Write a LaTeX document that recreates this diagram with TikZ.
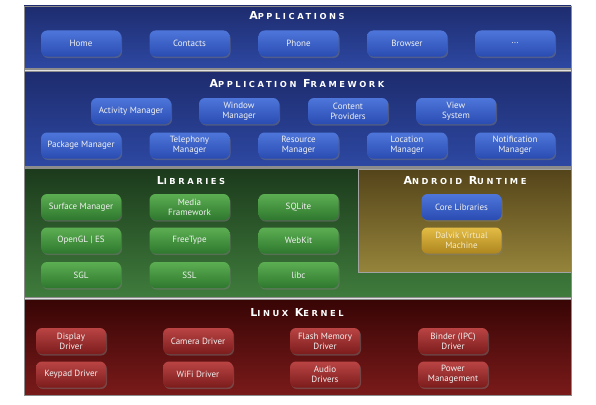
\documentclass[tikz,border=0pt]{standalone}
\usepackage{fontspec}
\setmainfont{PT Sans}
\newfontfamily\ttlfont[LetterSpace=31]{DejaVu Sans}
\usetikzlibrary{shadows}
\definecolor{appT}{HTML}{1E2C6E}
\definecolor{appB}{HTML}{2D48A2}
\definecolor{libT}{HTML}{1C3A1C}
\definecolor{libB}{HTML}{3F7C3C}
\definecolor{rtT}{HTML}{54441A}
\definecolor{rtB}{HTML}{95843A}
\definecolor{krnT}{HTML}{380505}
\definecolor{krnB}{HTML}{7A1A1A}
\definecolor{sepgray}{HTML}{8C8C8C}
\definecolor{bluT}{HTML}{4E76DA}
\definecolor{bluB}{HTML}{2A4CB2}
\definecolor{grnT}{HTML}{5CAE52}
\definecolor{grnB}{HTML}{2E782E}
\definecolor{redT}{HTML}{BA4444}
\definecolor{redB}{HTML}{7C1C1C}
\definecolor{ylwT}{HTML}{E2BC44}
\definecolor{ylwB}{HTML}{AE8620}
\definecolor{txt}{HTML}{F2F2F2}
\newcommand\sct[2]{{\fontsize{11}{11}\selectfont #1}{\fontsize{8.3}{8.3}\selectfont #2}}
\tikzset{
  layerbox/.style={rounded corners=6pt, minimum width=80pt, minimum height=26pt, inner sep=0pt,
    align=center, text=txt, font=\fontsize{9}{10}\selectfont,
    drop shadow={opacity=0.45, shadow xshift=1pt, shadow yshift=-1.5pt}},
  bluebox/.style={layerbox, top color=bluT, bottom color=bluB},
  greenbox/.style={layerbox, top color=grnT, bottom color=grnB},
  redbox/.style={layerbox, top color=redT, bottom color=redB, minimum width=70pt},
  yellowbox/.style={layerbox, top color=ylwT, bottom color=ylwB, text=ylwT!30!white},
  title/.style={text=white, font=\ttlfont\bfseries, inner sep=0pt},
  sepline/.style={fill=sepgray},
}
\begin{document}
\begin{tikzpicture}[x=1pt,y=-1pt]
\useasboundingbox (0,0) rectangle (596,404);
\fill[white] (0,0) rectangle (596,404);
% bands
\shade[top color=appT, bottom color=appB] (24,6) rectangle (571,68);
\shade[top color=appT, bottom color=appB] (24,72) rectangle (571,166);
\shade[top color=libT, bottom color=libB] (24,169) rectangle (571,297);
\shade[top color=krnT, bottom color=krnB] (24,300) rectangle (571,395);
\shade[top color=rtT, bottom color=rtB, draw=sepgray!80!white, line width=1pt] (358.5,169) rectangle (571,272);
% separators
\fill[sepline] (24,68) rectangle (571,72);
\draw[white!75!sepgray, line width=0.8pt] (24,70) -- (571,70);
\fill[sepline] (24,166) rectangle (571,169);
\fill[sepline] (24,297) rectangle (571,300);
\draw[white!75!sepgray, line width=0.6pt] (24,298.5) -- (571,298.5);
\draw[sepgray, line width=0.8pt] (24,6) rectangle (571,395);

% Applications
\node[title] (tapp) at (297,16) {\sct{A}{PPLICATIONS}};
\node[bluebox] (home) at (81,43.5) {Home};
\node[bluebox] (contacts) at (189.5,43.5) {Contacts};
\node[bluebox] (phone) at (298.5,43.5) {Phone};
\node[bluebox] (browser) at (407,43.5) {Browser};
\node[bluebox] (more) at (515,43.5) {...};

% Application framework
\node[title] (tfw) at (297,84) {\sct{A}{PPLICATION} \sct{F}{RAMEWORK}};
\node[bluebox] (activity) at (131,111) {Activity Manager};
\node[bluebox] (window) at (239,111) {Window\\Manager};
\node[bluebox] (content) at (348,111) {Content\\Providers};
\node[bluebox] (view) at (456,111) {View\\System};
\node[bluebox] (package) at (81,145.5) {Package Manager};
\node[bluebox] (telephony) at (189.5,145.5) {Telephony\\Manager};
\node[bluebox] (resource) at (298.5,145.5) {Resource\\Manager};
\node[bluebox] (location) at (407,145.5) {Location\\Manager};
\node[bluebox] (notification) at (515,145.5) {Notification\\Manager};

% Libraries
\node[title] (tlib) at (191,181) {\sct{L}{IBRARIES}};
\node[greenbox] (surface) at (81,207) {Surface Manager};
\node[greenbox] (media) at (189.5,207) {Media\\Framework};
\node[greenbox] (sqlite) at (298.5,207) {SQLite};
\node[greenbox] (opengl) at (81,240.5) {OpenGL | ES};
\node[greenbox] (freetype) at (189.5,240.5) {FreeType};
\node[greenbox] (webkit) at (298.5,240.5) {WebKit};
\node[greenbox] (sgl) at (81,275) {SGL};
\node[greenbox] (ssl) at (189.5,275) {SSL};
\node[greenbox] (libc) at (298.5,275) {libc};

% Android runtime
\node[title] (trt) at (465,181) {\sct{A}{NDROID} \sct{R}{UNTIME}};
\node[bluebox] (core) at (461.5,207) {Core Libraries};
\node[yellowbox] (dalvik) at (461.5,240.5) {Dalvik Virtual\\Machine};

% Linux kernel
\node[title] (tkrn) at (297,313) {\sct{L}{INUX} \sct{K}{ERNEL}};
\node[redbox] (display) at (71,341) {Display\\Driver};
\node[redbox] (camera) at (198,341) {Camera Driver};
\node[redbox] (flash) at (325,341) {Flash Memory\\Driver};
\node[redbox] (binder) at (453,341) {Binder (IPC)\\Driver};
\node[redbox] (keypad) at (71,374.5) {Keypad Driver};
\node[redbox] (wifi) at (198,374.5) {WiFi Driver};
\node[redbox] (audio) at (325,374.5) {Audio\\Drivers};
\node[redbox] (power) at (453,374.5) {Power\\Management};
\end{tikzpicture}
\end{document}
